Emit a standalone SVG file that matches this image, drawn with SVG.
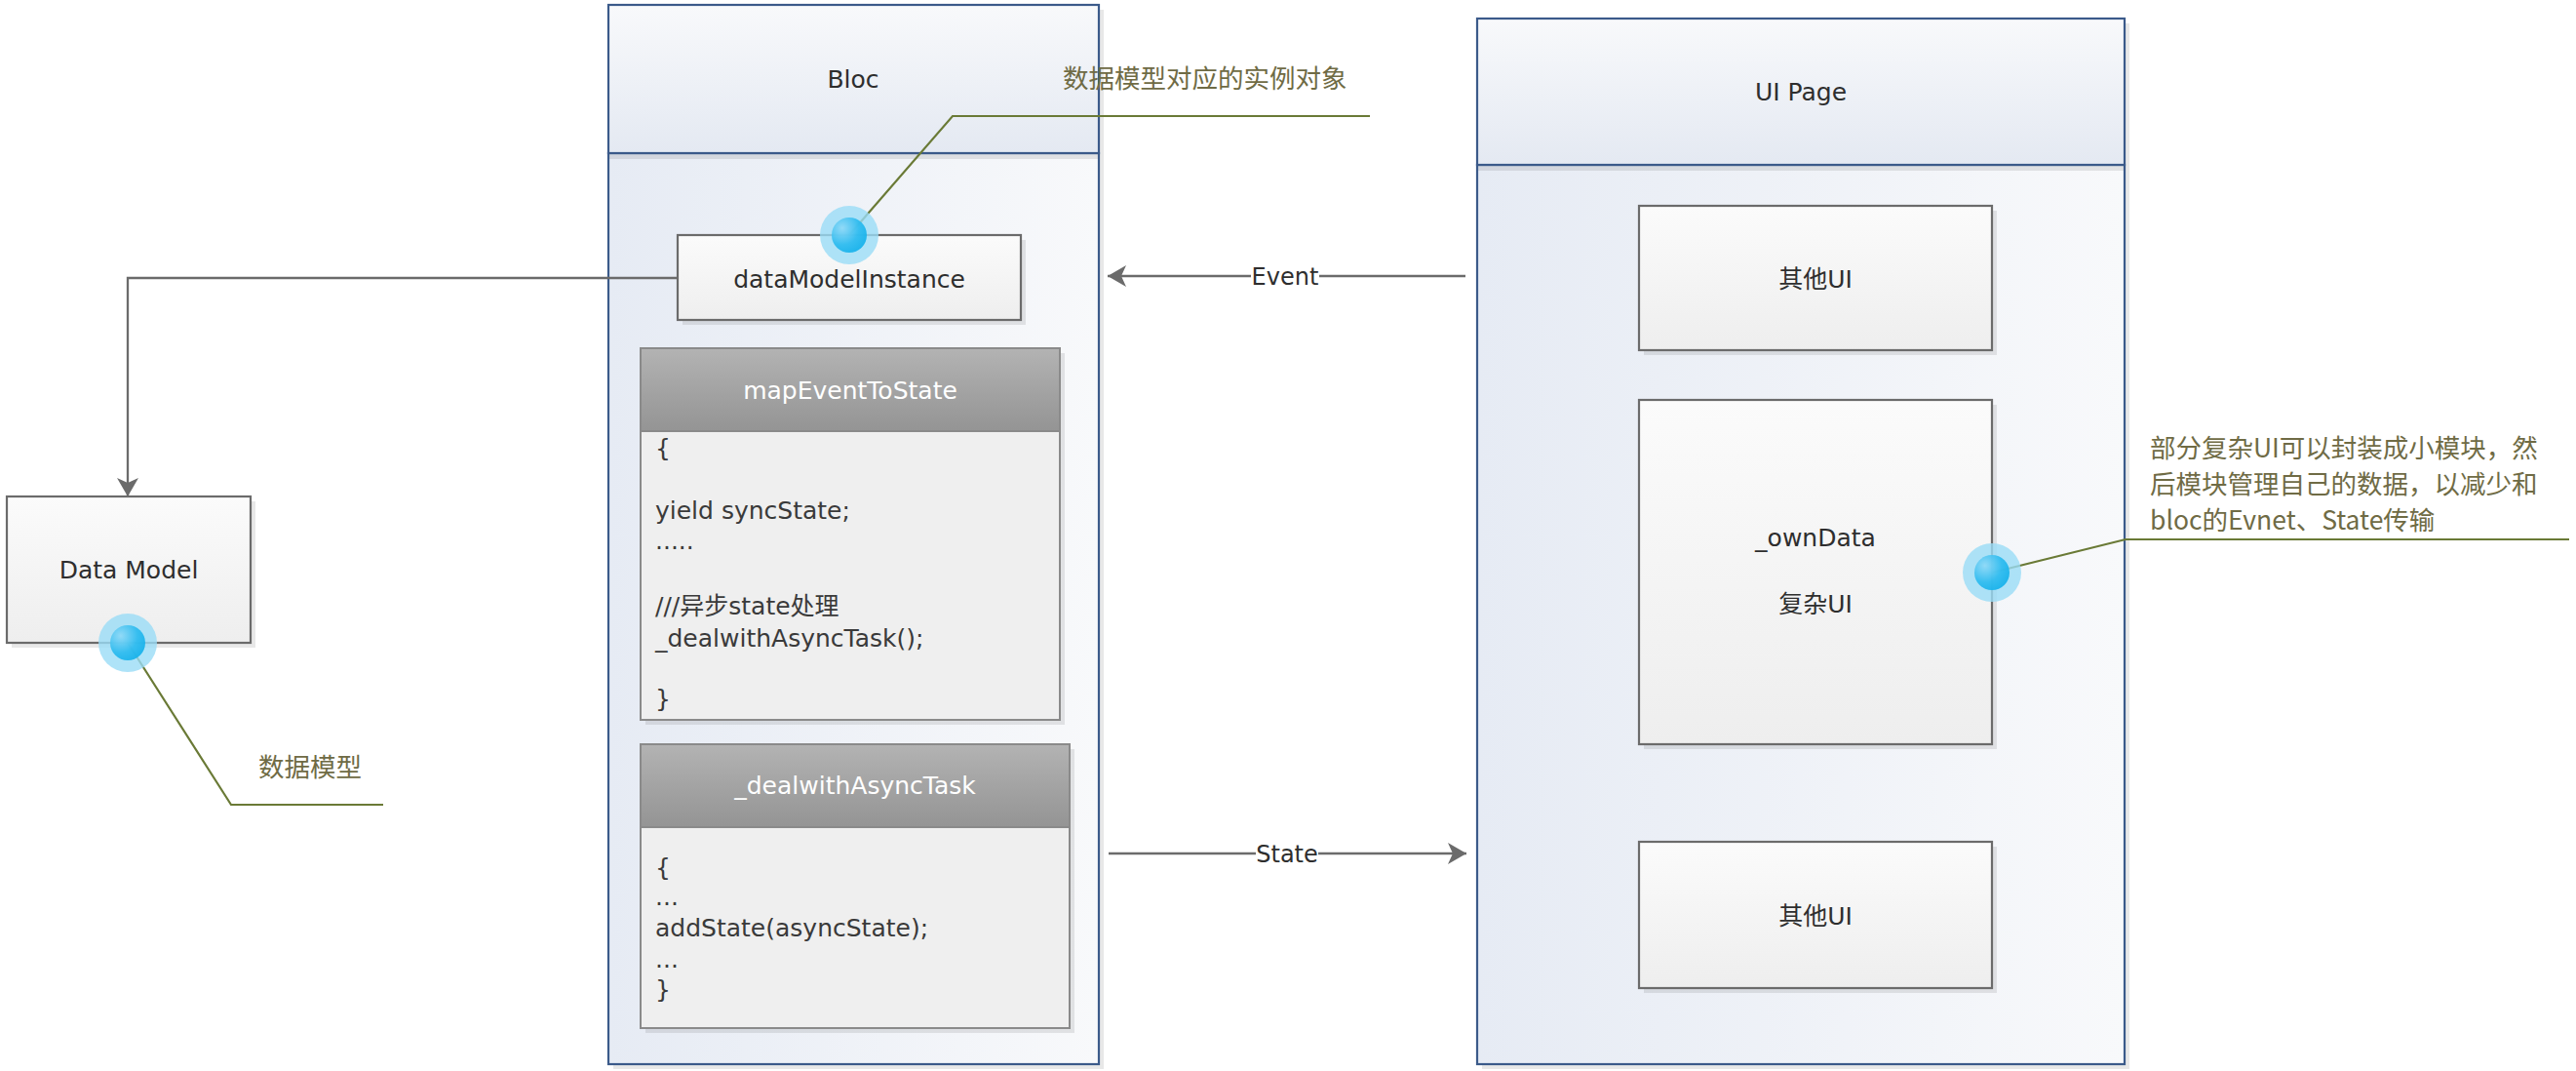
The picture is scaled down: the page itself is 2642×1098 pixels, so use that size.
<svg xmlns="http://www.w3.org/2000/svg" width="2642" height="1098" viewBox="0 0 2642 1098">
<defs>
  <linearGradient id="hdr" x1="0" y1="0" x2="0" y2="1">
    <stop offset="0" stop-color="#f8f9fb"/>
    <stop offset="1" stop-color="#e4e9f2"/>
  </linearGradient>
  <linearGradient id="body" x1="0" y1="0" x2="1" y2="0">
    <stop offset="0" stop-color="#e6ebf4"/>
    <stop offset="1" stop-color="#f8f9fb"/>
  </linearGradient>
  <linearGradient id="box" x1="0" y1="0" x2="0" y2="1">
    <stop offset="0" stop-color="#fbfbfb"/>
    <stop offset="1" stop-color="#eeeeee"/>
  </linearGradient>
  <linearGradient id="cls" x1="0" y1="0" x2="0" y2="1">
    <stop offset="0" stop-color="#b3b3b3"/>
    <stop offset="1" stop-color="#949494"/>
  </linearGradient>
  <radialGradient id="dotin" cx="0.3" cy="0.3" r="0.8">
    <stop offset="0" stop-color="#8fd9f7"/>
    <stop offset="0.6" stop-color="#2dbbef"/>
    <stop offset="1" stop-color="#12b0ea"/>
  </radialGradient>
  <marker id="arr" markerUnits="userSpaceOnUse" markerWidth="24" markerHeight="24" viewBox="-20 -12 24 24" refX="0" refY="0" orient="auto">
    <path d="M0,0 L-19,-11 L-14,0 L-19,11 Z" fill="#6b6b6b"/>
  </marker>
  <g id="dot">
    <circle r="30" fill="#9adcf6" fill-opacity="0.8"/>
    <circle r="18" fill="url(#dotin)" fill-opacity="0.92"/>
  </g>
</defs>
<style>
  .cont { stroke: #3b5a8a; stroke-width: 2.2; }
  .shadow { fill: #000; fill-opacity: 0.09; }
  .bx { fill: url(#box); stroke: #6b6b6b; stroke-width: 2.2; }
  .clsh { fill: url(#cls); stroke: #8a8a8a; stroke-width: 2; }
  .clsb { fill: #efefef; stroke: #8a8a8a; stroke-width: 2; }
  .lbl { font-family: "DejaVu Sans", "Noto Sans CJK SC", sans-serif; font-size: 25px; fill: #2e2e2e; }
  .mid { text-anchor: middle; }
  .wt { fill: #ffffff; }
  .code { font-family: "DejaVu Sans", "Noto Sans CJK SC", sans-serif; font-size: 25px; fill: #3a3a3a; }
  .conn { fill: none; stroke: #6b6b6b; stroke-width: 2.3; }
  .lead { fill: none; stroke: #6a7a36; stroke-width: 2.2; }
  .note { font-family: "Noto Sans CJK SC", "Noto Sans", sans-serif; font-size: 26.5px; fill: #6f6b45; }
  .elbl { font-family: "DejaVu Sans", "Noto Sans CJK SC", sans-serif; font-size: 24px; fill: #2e2e2e; text-anchor: middle; }
</style>

<!-- Bloc container -->
<g id="bloc">
  <rect class="shadow" x="629" y="10" width="503" height="1086"/>
  <rect x="624" y="157" width="503" height="934" fill="url(#body)" class="cont"/>
  <rect x="625" y="158" width="501" height="5" class="shadow"/>
  <rect x="624" y="5" width="503" height="152" fill="url(#hdr)" class="cont"/>
  <text class="lbl mid" x="875" y="90">Bloc</text>
</g>

<!-- UI Page container -->
<g id="uipage">
  <rect class="shadow" x="1520" y="24" width="664" height="1072"/>
  <rect x="1515" y="169" width="664" height="922" fill="url(#body)" class="cont"/>
  <rect x="1516" y="170" width="662" height="5" class="shadow"/>
  <rect x="1515" y="19" width="664" height="150" fill="url(#hdr)" class="cont"/>
  <text class="lbl mid" x="1847" y="103">UI Page</text>
</g>

<!-- Data Model -->
<g id="datamodel">
  <rect class="shadow" x="12" y="514" width="250" height="150"/>
  <rect class="bx" x="7" y="509" width="250" height="150"/>
  <text class="lbl mid" x="132" y="593">Data Model</text>
</g>

<!-- dataModelInstance -->
<g id="datamodelinstance">
  <rect class="shadow" x="700" y="246" width="352" height="87"/>
  <rect class="bx" x="695" y="241" width="352" height="87"/>
  <text class="lbl mid" x="871" y="295">dataModelInstance</text>
</g>

<!-- mapEventToState -->
<g id="mapeventtostate">
  <rect class="shadow" x="662" y="362" width="430" height="381"/>
  <rect class="clsb" x="657" y="442" width="430" height="296"/>
  <rect class="clsh" x="657" y="357" width="430" height="85"/>
  <text class="lbl mid wt" x="872" y="409">mapEventToState</text>
  <text class="code" x="672" y="468">{</text>
  <text class="code" x="672" y="532">yield syncState;</text>
  <text class="code" x="672" y="563">.....</text>
  <text class="code" x="672" y="630">///异步state处理</text>
  <text class="code" x="672" y="663">_dealwithAsyncTask();</text>
  <text class="code" x="672" y="725">}</text>
</g>

<!-- _dealwithAsyncTask -->
<g id="dealwithasynctask">
  <rect class="shadow" x="662" y="768" width="440" height="291"/>
  <rect class="clsb" x="657" y="848" width="440" height="206"/>
  <rect class="clsh" x="657" y="763" width="440" height="85"/>
  <text class="lbl mid wt" x="877" y="814">_dealwithAsyncTask</text>
  <text class="code" x="672" y="898">{</text>
  <text class="code" x="672" y="928">...</text>
  <text class="code" x="672" y="960">addState(asyncState);</text>
  <text class="code" x="672" y="992">...</text>
  <text class="code" x="672" y="1023">}</text>
</g>

<!-- UI boxes -->
<g id="otherui1">
  <rect class="shadow" x="1686" y="216" width="362" height="148"/>
  <rect class="bx" x="1681" y="211" width="362" height="148"/>
  <text class="lbl mid" x="1862" y="295">其他UI</text>
</g>
<g id="complexui">
  <rect class="shadow" x="1686" y="415" width="362" height="353"/>
  <rect class="bx" x="1681" y="410" width="362" height="353"/>
  <text class="lbl mid" x="1862" y="560">_ownData</text>
  <text class="lbl mid" x="1862" y="628">复杂UI</text>
</g>
<g id="otherui2">
  <rect class="shadow" x="1686" y="868" width="362" height="150"/>
  <rect class="bx" x="1681" y="863" width="362" height="150"/>
  <text class="lbl mid" x="1862" y="948">其他UI</text>
</g>

<!-- connectors -->
<g id="connectors">
  <path class="conn" d="M695,285 L131,285 L131,509" marker-end="url(#arr)"/>
  <path class="conn" d="M1503,283 L1136,283" marker-end="url(#arr)"/>
  <rect x="1283" y="268" width="70" height="30" fill="#ffffff"/>
  <text class="elbl" x="1318" y="292">Event</text>
  <path class="conn" d="M1137,875 L1504,875" marker-end="url(#arr)"/>
  <rect x="1288" y="860" width="64" height="30" fill="#ffffff"/>
  <text class="elbl" x="1320" y="884">State</text>
</g>

<!-- annotations -->
<g id="note-instance">
  <path class="lead" d="M871,241 L977,119 L1405,119"/>
  <use href="#dot" x="871" y="241"/>
  <text class="note" x="1090" y="90">数据模型对应的实例对象</text>
</g>
<g id="note-model">
  <path class="lead" d="M131,659 L237,825 L393,825"/>
  <use href="#dot" x="131" y="659"/>
  <text class="note" x="265" y="796">数据模型</text>
</g>
<g id="note-complex">
  <path class="lead" d="M2043,587 L2180,553 L2635,553"/>
  <use href="#dot" x="2043" y="587"/>
  <text class="note" x="2205" y="469">部分复杂UI可以封装成小模块，然</text>
  <text class="note" x="2205" y="506">后模块管理自己的数据，以减少和</text>
  <text class="note" x="2205" y="543">bloc的Evnet、State传输</text>
</g>
</svg>
